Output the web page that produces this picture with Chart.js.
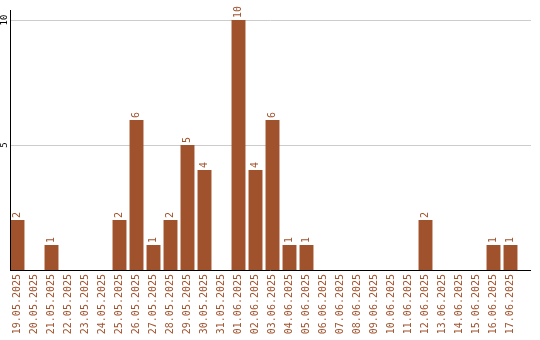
<!DOCTYPE html>
<html>
<head>
<meta charset="utf-8">
<script src="https://cdn.jsdelivr.net/npm/chart.js@4"></script>
<style>
html,body{margin:0;padding:0;background:#fff;}
#wrap{width:540px;height:340px;position:relative;}
</style>
</head>
<body>
<div id="wrap"><canvas id="c" width="540" height="340"></canvas></div>
<script>
const categories = ["19.05.2025","20.05.2025","21.05.2025","22.05.2025","23.05.2025","24.05.2025","25.05.2025","26.05.2025","27.05.2025","28.05.2025","29.05.2025","30.05.2025","31.05.2025","01.06.2025","02.06.2025","03.06.2025","04.06.2025","05.06.2025","06.06.2025","07.06.2025","08.06.2025","09.06.2025","10.06.2025","11.06.2025","12.06.2025","13.06.2025","14.06.2025","15.06.2025","16.06.2025","17.06.2025"];
const counts = [2,0,1,0,0,0,2,6,1,2,5,4,0,10,4,6,1,1,0,0,0,0,0,0,2,0,0,0,1,1];
const yTicks = [5,10];

const BROWN = '#a0522d';
const MONO = '"DejaVu Sans Mono", monospace';

const decor = {
  id: 'decor',
  beforeDatasetsDraw(chart) {
    const ctx = chart.ctx, y = chart.scales.y, a = chart.chartArea;
    ctx.save();
    ctx.strokeStyle = '#cccccc';
    ctx.lineWidth = 1;
    yTicks.forEach(v => {
      const py = Math.round(y.getPixelForValue(v)) + 0.5;
      ctx.beginPath(); ctx.moveTo(10, py); ctx.lineTo(531, py); ctx.stroke();
    });
    ctx.restore();
  },
  afterDatasetsDraw(chart) {
    const ctx = chart.ctx, y = chart.scales.y, a = chart.chartArea;
    ctx.save();
    // axes
    ctx.strokeStyle = '#000'; ctx.lineWidth = 1;
    ctx.beginPath(); ctx.moveTo(10.5, a.top); ctx.lineTo(10.5, a.bottom + 1); ctx.stroke();
    const by = Math.round(y.getPixelForValue(0)) + 0.5;
    ctx.beginPath(); ctx.moveTo(10, by); ctx.lineTo(531, by); ctx.stroke();
    // y tick labels
    ctx.fillStyle = '#000';
    ctx.font = '9px ' + MONO;
    ctx.textAlign = 'center'; ctx.textBaseline = 'middle';
    yTicks.forEach(v => {
      ctx.save();
      ctx.translate(4.5, y.getPixelForValue(v));
      ctx.rotate(-Math.PI/2);
      ctx.fillText(String(v), 0, 0);
      ctx.restore();
    });
    // value labels
    ctx.fillStyle = BROWN;
    ctx.font = '10px ' + MONO;
    ctx.textAlign = 'left'; ctx.textBaseline = 'middle';
    const meta = chart.getDatasetMeta(0);
    meta.data.forEach((bar, i) => {
      const v = counts[i];
      if (!v) return;
      ctx.save();
      ctx.translate(bar.x, bar.y - 2);
      ctx.rotate(-Math.PI/2);
      ctx.fillText(String(v), 0, 0);
      ctx.restore();
    });
    ctx.restore();
  }
};

new Chart(document.getElementById('c'), {
  type: 'bar',
  data: {
    labels: categories,
    datasets: [{
      data: counts,
      backgroundColor: BROWN,
      borderWidth: 0,
      barPercentage: 0.82,
      categoryPercentage: 1.0
    }]
  },
  options: {
    responsive: false,
    animation: false,
    layout: { padding: { top: 10, right: 21, left: 0, bottom: 0 } },
    plugins: { legend: { display: false }, tooltip: { enabled: false } },
    scales: {
      x: {
        grid: { display: false, drawTicks: false },
        border: { display: false },
        ticks: {
          autoSkip: false,
          minRotation: 90, maxRotation: 90,
          padding: 4,
          color: BROWN,
          font: { family: MONO, size: 10 }
        },
        afterFit(scale) { scale.height = 70; }
      },
      y: {
        min: 0, max: 10.4,
        grid: { display: false, drawTicks: false },
        border: { display: false },
        ticks: { display: false },
        afterFit(scale) { scale.width = 9; }
      }
    }
  },
  plugins: [decor]
});
</script>
</body>
</html>
